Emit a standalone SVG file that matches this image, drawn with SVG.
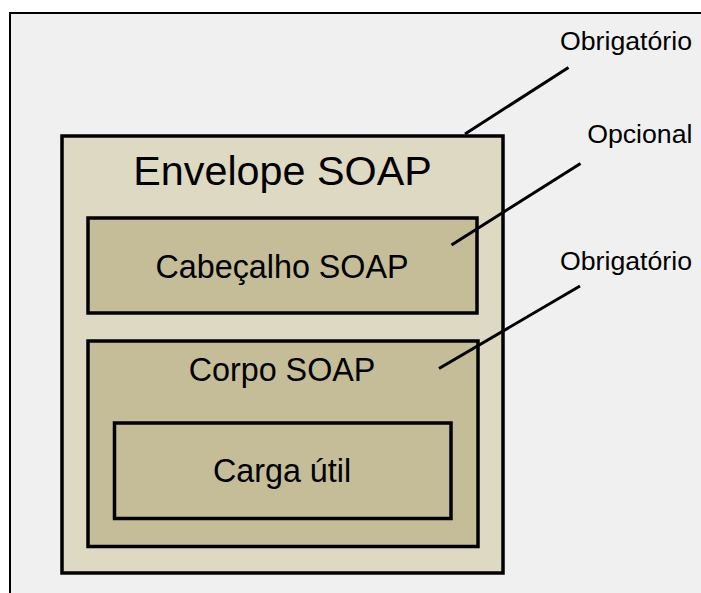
<svg xmlns="http://www.w3.org/2000/svg" width="701" height="593" viewBox="0 0 701 593">
  <style>
    .frame { fill: #f0f0f0; stroke: #000; stroke-width: 2; }
    .outer { fill: #ddd9c3; stroke: #000; stroke-width: 3.5; }
    .inner { fill: #c4bd97; stroke: #000; stroke-width: 3.5; }
    .lbl { font-family: "Liberation Sans", Arial, sans-serif; fill: #000; text-anchor: middle; }
    .side { font-family: "Liberation Sans", Arial, sans-serif; fill: #000; text-anchor: end; font-size: 26.7px; }
    .lead { stroke: #000; stroke-width: 3; fill: none; }
  </style>
  <rect x="0" y="0" width="701" height="593" fill="#fff"/>
  <!-- panel: open on the right and bottom -->
  <rect class="frame" x="10" y="13" width="720" height="620"/>

  <g id="envelope">
    <rect class="outer" x="62" y="136" width="441" height="437"/>
    <text class="lbl" x="282.5" y="184.5" font-size="41.3">Envelope SOAP</text>
  </g>

  <g id="header">
    <rect class="inner" x="88" y="218" width="389" height="95"/>
    <text class="lbl" x="282" y="277.5" font-size="32.3">Cabeçalho SOAP</text>
  </g>

  <g id="body">
    <rect class="inner" x="88" y="341" width="390" height="205.5"/>
    <text class="lbl" x="282" y="380.5" font-size="32.3">Corpo SOAP</text>
  </g>

  <g id="payload">
    <rect class="inner" x="114.5" y="423" width="336.5" height="95.5"/>
    <text class="lbl" x="282" y="482" font-size="32.3">Carga útil</text>
  </g>

  <g id="connectors">
    <line class="lead" x1="465" y1="134" x2="568.5" y2="67.5"/>
    <line class="lead" x1="451.5" y1="245" x2="580.5" y2="163.5"/>
    <line class="lead" x1="439" y1="368.5" x2="580" y2="286"/>
  </g>

  <g id="labels">
    <text class="side" x="692" y="49.5">Obrigatório</text>
    <text class="side" x="692.5" y="143">Opcional</text>
    <text class="side" x="692" y="269.5">Obrigatório</text>
  </g>
</svg>
